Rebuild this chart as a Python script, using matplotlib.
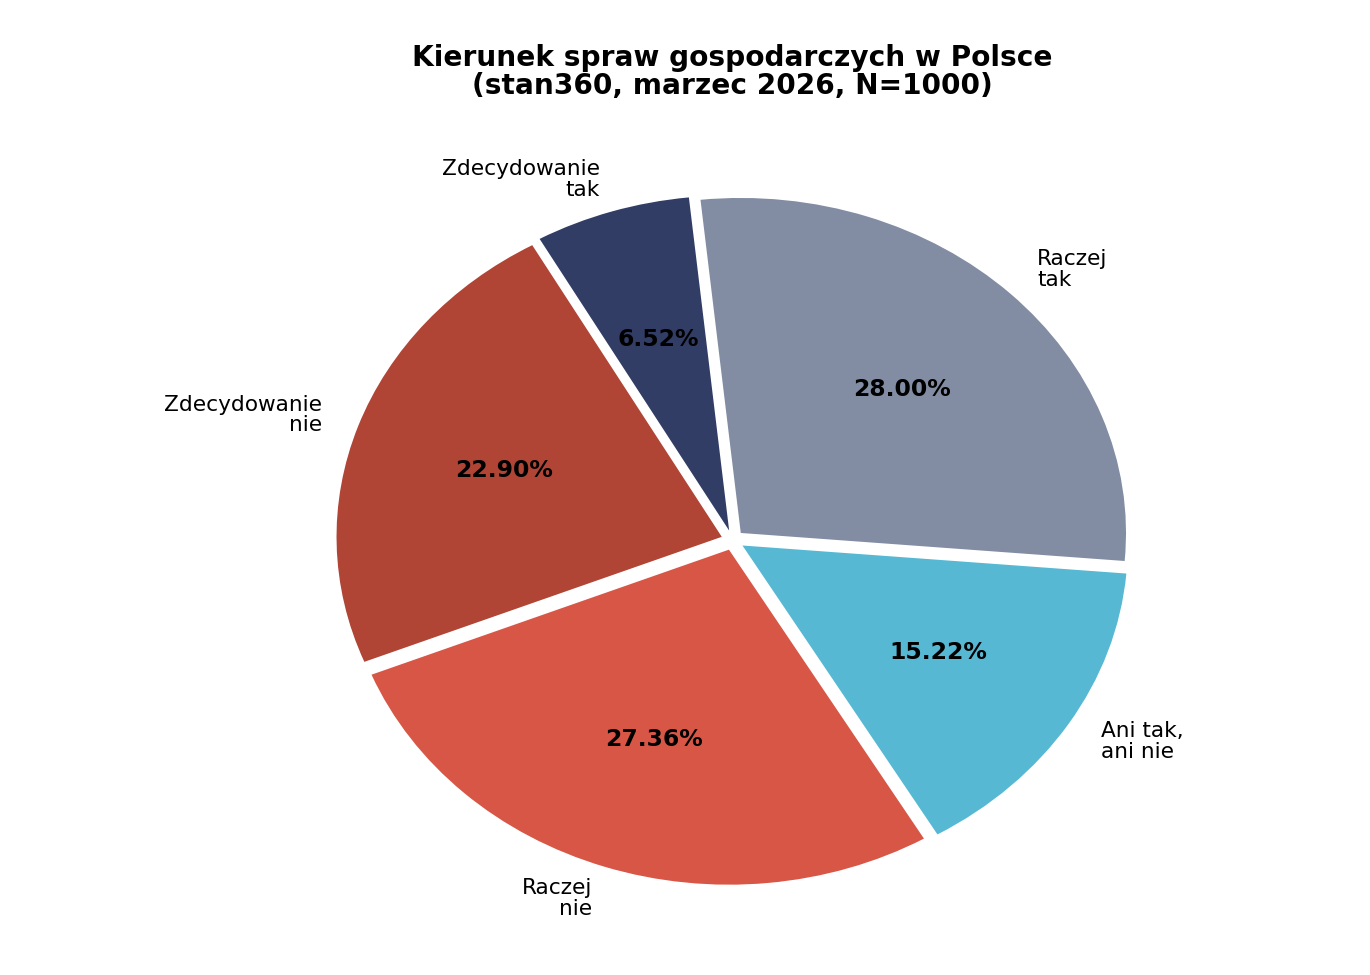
import matplotlib
matplotlib.use("Agg")
import matplotlib.pyplot as plt

# ── Data ──────────────────────────────────────────────────────
labels = ["Raczej\ntak", "Ani tak,\nani nie", "Raczej\nnie",
          "Zdecydowanie\nnie", "Zdecydowanie\ntak"]
shares = [28.00, 15.22, 27.36, 22.90, 6.52]
colors = ["#828DA3", "#56B8D3", "#D85646", "#B04435", "#323D66"]

# ── Plot ──────────────────────────────────────────────────────
fig = plt.figure(figsize=(1370 / 130, 975 / 130), dpi=130)
ax = fig.add_axes([0.1833, 0.0165, 0.703, 0.859])

wedges, texts, autotexts = ax.pie(
    shares, labels=labels, colors=colors,
    explode=[0.03] * len(shares),
    startangle=96, counterclock=False,
    autopct="%1.2f%%", pctdistance=0.6, labeldistance=1.1,
    textprops={"fontsize": 12},
)
ax.set_aspect("auto")
for t in texts:
    t.set_linespacing(1.05)
for t in autotexts:
    t.set_fontsize(13)
    t.set_fontweight("bold")

# title centred over the pie axes
fig.text(0.1833 + 0.703 / 2, 0.955,
         "Kierunek spraw gospodarczych w Polsce\n(stan360, marzec 2026, N=1000)",
         ha="center", va="top", fontsize=15.5, fontweight="bold", linespacing=1.0)

plt.savefig("out.png", dpi=130)
plt.close()
